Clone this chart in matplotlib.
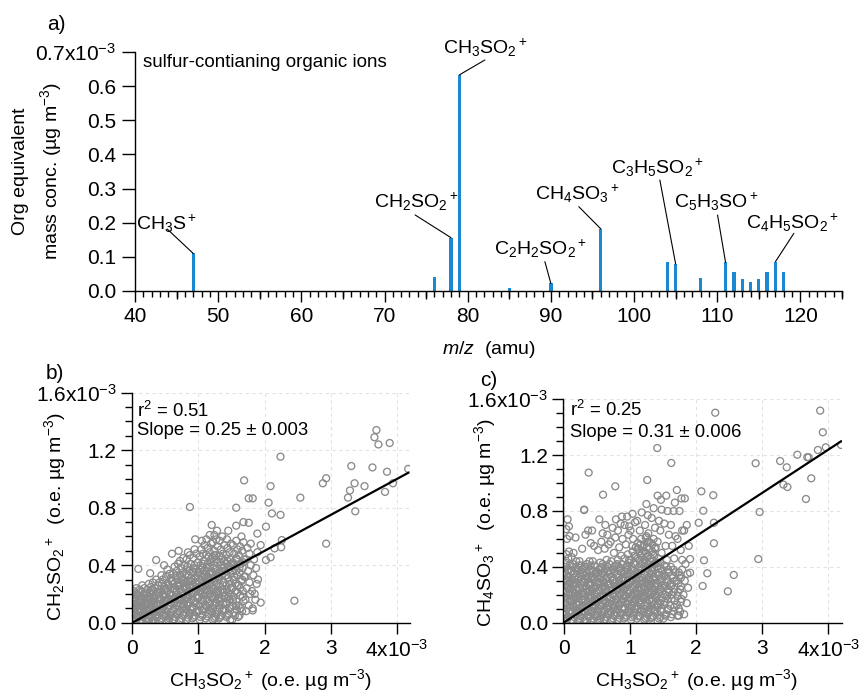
import matplotlib
matplotlib.use('Agg')
import matplotlib.pyplot as plt
from matplotlib.ticker import MultipleLocator, FixedLocator, FixedFormatter

plt.rcParams['font.family'] = ['Liberation Sans', 'DejaVu Sans']
plt.rcParams['mathtext.fontset'] = 'custom'
plt.rcParams['mathtext.rm'] = 'Liberation Sans'
plt.rcParams['mathtext.it'] = 'Liberation Sans:italic'
plt.rcParams['mathtext.bf'] = 'Liberation Sans:bold'
plt.rcParams['axes.linewidth'] = 1.0

# ---------------- data ----------------
# panel a: sulfur-containing organic ions (x 1e-3 ug m-3)
mz = [47, 76, 78, 79, 85, 90, 96, 104, 105, 108, 111, 112, 113, 114, 115, 116, 117, 118]
conc = [0.110, 0.042, 0.156, 0.633, 0.008, 0.022, 0.182, 0.084, 0.079, 0.037,
        0.084, 0.057, 0.036, 0.027, 0.035, 0.055, 0.086, 0.057]
ann_mz = [47, 78, 79, 90, 96, 105, 111, 117]
ann_labels = ['CH$_3$S$^+$', 'CH$_2$SO$_2$$^+$', 'CH$_3$SO$_2$$^+$', 'C$_2$H$_2$SO$_2$$^+$',
              'CH$_4$SO$_3$$^+$', 'C$_3$H$_5$SO$_2$$^+$', 'C$_5$H$_3$SO$^+$', 'C$_4$H$_5$SO$_2$$^+$']

# panel b: CH3SO2+ (x) vs CH2SO2+ (y), units 1e-3 o.e. ug m-3
b_cloud = [
 (0.02,0.01),(0.06,0.03),(0.03,0.06),(0.08,0.08),(0.01,0.11),(0.05,0.13),(0.09,0.15),(0.03,0.17),(0.07,0.20),(0.02,0.22),(0.06,0.24),(0.09,0.05),(0.04,0.09),(0.08,0.12),(0.01,0.19),
 (0.12,0.02),(0.16,0.04),(0.11,0.07),(0.18,0.09),(0.14,0.12),(0.19,0.14),(0.12,0.16),(0.17,0.19),(0.13,0.22),(0.18,0.24),(0.15,0.26),(0.11,0.10),(0.16,0.00),(0.19,0.06),(0.14,0.18),
 (0.21,0.01),(0.25,0.03),(0.28,0.05),(0.22,0.08),(0.27,0.10),(0.24,0.13),(0.29,0.15),(0.21,0.17),(0.26,0.20),(0.23,0.23),(0.28,0.25),(0.25,0.27),(0.29,0.00),(0.22,0.12),(0.27,0.18),
 (0.31,0.02),(0.35,0.00),(0.38,0.04),(0.33,0.07),(0.37,0.09),(0.31,0.11),(0.36,0.13),(0.39,0.16),(0.32,0.18),(0.37,0.21),(0.34,0.24),(0.39,0.26),(0.31,0.28),(0.36,0.30),(0.33,0.15),
 (0.41,0.01),(0.45,0.03),(0.48,0.06),(0.42,0.08),(0.47,0.11),(0.43,0.13),(0.49,0.15),(0.41,0.18),(0.46,0.20),(0.43,0.23),(0.48,0.25),(0.41,0.28),(0.46,0.30),(0.44,0.33),(0.49,0.19),
 (0.52,0.00),(0.56,0.03),(0.51,0.05),(0.58,0.07),(0.53,0.10),(0.57,0.12),(0.51,0.15),(0.55,0.17),(0.59,0.19),(0.52,0.22),(0.57,0.24),(0.54,0.27),(0.59,0.29),(0.51,0.32),(0.56,0.34),(0.53,0.37),(0.58,0.14),
 (0.61,0.02),(0.65,0.04),(0.68,0.07),(0.62,0.09),(0.67,0.12),(0.63,0.14),(0.69,0.16),(0.61,0.19),(0.66,0.21),(0.63,0.24),(0.68,0.26),(0.61,0.29),(0.66,0.31),(0.62,0.34),(0.67,0.36),(0.64,0.39),(0.69,0.41),(0.65,0.18),
 (0.71,0.01),(0.75,0.03),(0.78,0.06),(0.72,0.08),(0.77,0.11),(0.73,0.13),(0.79,0.16),(0.71,0.18),(0.76,0.20),(0.73,0.23),(0.78,0.25),(0.71,0.28),(0.76,0.30),(0.72,0.33),(0.77,0.35),(0.74,0.38),(0.79,0.40),(0.72,0.43),(0.77,0.45),(0.75,0.17),
 (0.82,0.02),(0.86,0.05),(0.81,0.07),(0.88,0.09),(0.83,0.12),(0.87,0.14),(0.81,0.17),(0.85,0.19),(0.89,0.21),(0.82,0.24),(0.87,0.26),(0.84,0.29),(0.89,0.31),(0.81,0.34),(0.86,0.36),(0.83,0.39),(0.88,0.41),(0.82,0.44),(0.87,0.47),(0.84,0.49),(0.86,0.22),
 (0.91,0.03),(0.95,0.05),(0.98,0.08),(0.92,0.10),(0.97,0.13),(0.93,0.15),(0.99,0.17),(0.91,0.20),(0.96,0.22),(0.93,0.25),(0.98,0.27),(0.91,0.30),(0.96,0.32),(0.92,0.35),(0.97,0.37),(0.94,0.40),(0.99,0.42),(0.92,0.45),(0.97,0.48),(0.94,0.51),(0.95,0.28),
 (1.02,0.02),(1.06,0.05),(1.01,0.08),(1.08,0.10),(1.03,0.13),(1.07,0.15),(1.01,0.18),(1.05,0.20),(1.09,0.23),(1.02,0.25),(1.07,0.28),(1.04,0.30),(1.09,0.33),(1.01,0.35),(1.06,0.38),(1.03,0.40),(1.08,0.43),(1.02,0.46),(1.07,0.48),(1.04,0.51),(1.09,0.54),(1.05,0.57),(1.06,0.24),
 (1.11,0.03),(1.15,0.06),(1.18,0.08),(1.12,0.11),(1.17,0.13),(1.13,0.16),(1.19,0.18),(1.11,0.21),(1.16,0.23),(1.13,0.26),(1.18,0.28),(1.11,0.31),(1.16,0.34),(1.12,0.36),(1.17,0.39),(1.14,0.41),(1.19,0.44),(1.12,0.47),(1.17,0.49),(1.14,0.52),(1.19,0.55),(1.12,0.58),(1.17,0.61),(1.15,0.30),
 (1.22,0.02),(1.26,0.04),(1.21,0.07),(1.28,0.09),(1.23,0.12),(1.27,0.14),(1.21,0.17),(1.25,0.19),(1.29,0.22),(1.22,0.24),(1.27,0.27),(1.24,0.29),(1.29,0.32),(1.21,0.35),(1.26,0.37),(1.23,0.40),(1.28,0.42),(1.22,0.45),(1.27,0.47),(1.24,0.50),(1.29,0.53),(1.22,0.56),(1.27,0.58),(1.24,0.61),(1.28,0.64),
 (1.31,0.03),(1.35,0.05),(1.38,0.08),(1.32,0.10),(1.37,0.13),(1.33,0.15),(1.39,0.18),(1.31,0.20),(1.36,0.23),(1.33,0.25),(1.38,0.28),(1.31,0.30),(1.36,0.33),(1.32,0.35),(1.37,0.38),(1.34,0.40),(1.39,0.43),(1.32,0.46),(1.37,0.48),(1.34,0.51),(1.39,0.54),(1.32,0.57),(1.36,0.60),
 (1.42,0.04),(1.46,0.06),(1.41,0.09),(1.48,0.11),(1.43,0.14),(1.47,0.16),(1.41,0.19),(1.45,0.21),(1.49,0.24),(1.42,0.26),(1.47,0.29),(1.44,0.31),(1.49,0.34),(1.41,0.36),(1.46,0.39),(1.43,0.41),(1.48,0.44),(1.42,0.47),(1.47,0.49),(1.44,0.52),(1.49,0.55),(1.43,0.58),
 (1.51,0.02),(1.55,0.05),(1.58,0.09),(1.52,0.12),(1.57,0.15),(1.53,0.18),(1.59,0.21),(1.51,0.24),(1.56,0.27),(1.53,0.30),(1.58,0.33),(1.51,0.36),(1.56,0.39),(1.52,0.42),(1.57,0.45),(1.54,0.48),(1.59,0.51),(1.52,0.54),(1.57,0.57),
 (1.62,0.05),(1.66,0.08),(1.61,0.12),(1.68,0.15),(1.63,0.19),(1.67,0.22),(1.61,0.26),(1.65,0.29),(1.69,0.32),(1.62,0.35),(1.67,0.38),(1.64,0.41),(1.69,0.44),(1.61,0.47),(1.66,0.50),(1.63,0.53),(1.68,0.56),
 (1.72,0.08),(1.76,0.12),(1.71,0.16),(1.78,0.20),(1.73,0.24),(1.77,0.28),(1.71,0.32),(1.75,0.36),(1.79,0.40),(1.72,0.44),(1.77,0.48),(1.74,0.52),(1.79,0.55),
 (1.82,0.10),(1.86,0.16),(1.81,0.22),(1.88,0.27),(1.83,0.33),(1.87,0.38),(1.84,0.44),(1.89,0.49),(1.85,0.20),
]
b_core = [
 (0.04,0.02),(0.07,0.045),(0.02,0.075),(0.05,0.10),(0.09,0.125),(0.03,0.145),(0.06,0.165),(0.08,0.19),(0.04,0.21),
 (0.14,0.015),(0.17,0.05),(0.13,0.08),(0.16,0.11),(0.19,0.13),(0.12,0.145),(0.15,0.165),(0.18,0.205),(0.11,0.23),
 (0.23,0.02),(0.26,0.045),(0.21,0.065),(0.25,0.09),(0.28,0.12),(0.23,0.155),(0.27,0.165),(0.22,0.21),(0.29,0.22),
 (0.33,0.02),(0.36,0.055),(0.31,0.08),(0.35,0.105),(0.38,0.125),(0.33,0.165),(0.37,0.19),(0.31,0.225),(0.39,0.21),
 (0.43,0.02),(0.46,0.05),(0.41,0.07),(0.45,0.095),(0.48,0.13),(0.43,0.165),(0.47,0.18),(0.42,0.21),(0.49,0.235),(0.45,0.27),
 (0.54,0.02),(0.57,0.055),(0.52,0.08),(0.56,0.11),(0.59,0.135),(0.53,0.16),(0.57,0.20),(0.51,0.24),(0.55,0.26),(0.58,0.31),
 (0.63,0.025),(0.66,0.06),(0.61,0.08),(0.65,0.105),(0.68,0.135),(0.62,0.165),(0.67,0.195),(0.64,0.225),(0.69,0.25),(0.62,0.27),(0.67,0.33),
 (0.73,0.02),(0.76,0.05),(0.71,0.075),(0.75,0.10),(0.78,0.13),(0.72,0.155),(0.77,0.19),(0.74,0.215),(0.79,0.24),(0.72,0.265),(0.77,0.29),(0.74,0.32),
 (0.84,0.035),(0.87,0.07),(0.82,0.095),(0.85,0.13),(0.89,0.16),(0.83,0.18),(0.86,0.245),(0.81,0.275),(0.88,0.29),(0.85,0.33),(0.82,0.37),
 (0.93,0.04),(0.96,0.075),(0.91,0.11),(0.95,0.14),(0.98,0.19),(0.93,0.21),(0.97,0.24),(0.91,0.265),(0.95,0.31),(0.99,0.345),(0.93,0.38),
 (1.03,0.04),(1.06,0.09),(1.01,0.12),(1.05,0.16),(1.08,0.19),(1.03,0.215),(1.07,0.26),(1.01,0.29),(1.05,0.32),(1.09,0.36),(1.03,0.37),(1.07,0.41),
 (1.13,0.045),(1.16,0.09),(1.11,0.12),(1.15,0.145),(1.18,0.20),(1.13,0.22),(1.17,0.26),(1.11,0.285),(1.15,0.32),(1.19,0.35),(1.13,0.385),(1.18,0.42),(1.15,0.46),
 (1.24,0.03),(1.27,0.06),(1.22,0.10),(1.26,0.13),(1.29,0.16),(1.23,0.18),(1.26,0.21),(1.21,0.26),(1.25,0.31),(1.28,0.34),(1.23,0.38),(1.27,0.44),(1.24,0.47),
 (1.33,0.04),(1.36,0.09),(1.31,0.12),(1.35,0.17),(1.38,0.21),(1.33,0.22),(1.37,0.26),(1.31,0.32),(1.35,0.36),(1.39,0.39),(1.33,0.42),(1.36,0.45),
 (1.44,0.05),(1.47,0.10),(1.42,0.13),(1.46,0.18),(1.49,0.20),(1.43,0.23),(1.47,0.27),(1.42,0.33),(1.46,0.37),(1.49,0.41),(1.44,0.43),
 (1.54,0.07),(1.57,0.12),(1.52,0.16),(1.56,0.22),(1.59,0.26),(1.54,0.32),(1.57,0.36),(1.53,0.40),(1.58,0.44),
 (1.64,0.10),(1.67,0.18),(1.63,0.24),(1.66,0.30),(1.62,0.38),(1.68,0.42),
]
b_sparse = [
 (0.36,0.436),(0.09,0.374),(0.27,0.344),(0.60,0.48),(0.48,0.40),(0.70,0.50),(0.95,0.58),(1.20,0.68),(1.45,0.64),(1.65,0.60),
 (1.48,0.02),(1.60,0.04),(1.90,0.30),(1.94,0.14),(1.82,0.085),(1.89,0.62),(1.94,0.54),(1.57,0.675),(1.68,0.70),(1.76,0.695),
 (0.87,0.805),(1.57,0.80),(1.69,0.99),(1.76,0.865),(1.82,0.865),(2.02,0.668),(2.06,0.835),(2.09,0.95),(2.11,0.76),(2.24,0.75),
 (2.26,0.575),(2.25,0.525),(2.15,0.517),(2.09,0.455),(2.02,0.436),(2.24,1.155),(2.45,0.153),(2.54,0.87),(2.93,1.005),(2.88,0.97),
 (2.93,0.55),(3.26,0.87),(3.29,0.92),(3.36,0.97),(3.37,0.775),(3.31,1.09),(3.51,0.95),(3.63,1.08),(3.82,0.91),(3.85,1.05),
 (3.94,0.97),(4.17,1.07),(3.69,1.34),(3.66,1.29),(3.72,1.24),(3.89,1.25),
]
b_slope = 0.25
b_r2 = 0.51
b_err = 0.003

# panel c: CH3SO2+ (x) vs CH4SO3+ (y)
c_cloud = [
 (0.02,0.01),(0.06,0.03),(0.03,0.06),(0.08,0.08),(0.01,0.11),(0.05,0.13),(0.09,0.16),(0.03,0.18),(0.07,0.21),(0.02,0.23),(0.06,0.26),(0.09,0.28),(0.03,0.31),(0.07,0.33),(0.02,0.36),(0.06,0.38),(0.09,0.41),(0.03,0.43),(0.07,0.46),(0.04,0.49),(0.08,0.51),(0.05,0.60),(0.04,0.67),(0.08,0.69),(0.06,0.74),(0.09,0.62),
 (0.12,0.02),(0.16,0.04),(0.11,0.07),(0.18,0.09),(0.14,0.12),(0.19,0.14),(0.12,0.17),(0.17,0.19),(0.13,0.22),(0.18,0.24),(0.15,0.27),(0.11,0.29),(0.16,0.32),(0.19,0.34),(0.12,0.37),(0.17,0.39),(0.14,0.42),(0.19,0.44),(0.12,0.47),(0.15,0.50),(0.18,0.61),
 (0.21,0.01),(0.25,0.03),(0.28,0.06),(0.22,0.08),(0.27,0.11),(0.24,0.13),(0.29,0.16),(0.21,0.18),(0.26,0.21),(0.23,0.23),(0.28,0.26),(0.25,0.28),(0.21,0.31),(0.26,0.33),(0.29,0.36),(0.22,0.38),(0.27,0.41),(0.24,0.44),(0.28,0.53),
 (0.31,0.02),(0.35,0.00),(0.38,0.04),(0.33,0.07),(0.37,0.09),(0.31,0.12),(0.36,0.14),(0.39,0.17),(0.32,0.19),(0.37,0.22),(0.34,0.24),(0.39,0.27),(0.31,0.29),(0.36,0.32),(0.33,0.34),(0.38,0.37),(0.31,0.39),(0.35,0.42),(0.39,0.44),(0.33,0.63),(0.37,0.66),(0.31,0.81),
 (0.41,0.01),(0.45,0.03),(0.48,0.06),(0.42,0.08),(0.47,0.11),(0.43,0.13),(0.49,0.16),(0.41,0.18),(0.46,0.21),(0.43,0.23),(0.48,0.26),(0.41,0.28),(0.46,0.31),(0.44,0.33),(0.49,0.36),(0.42,0.38),(0.47,0.41),(0.44,0.44),(0.41,0.57),(0.46,0.55),(0.43,0.66),
 (0.52,0.00),(0.56,0.03),(0.51,0.05),(0.58,0.08),(0.53,0.10),(0.57,0.13),(0.51,0.15),(0.55,0.18),(0.59,0.20),(0.52,0.23),(0.57,0.25),(0.54,0.28),(0.59,0.30),(0.51,0.33),(0.56,0.35),(0.53,0.38),(0.58,0.40),(0.55,0.43),(0.52,0.52),(0.57,0.58),(0.59,0.64),(0.54,0.74),
 (0.61,0.02),(0.65,0.04),(0.68,0.07),(0.62,0.09),(0.67,0.12),(0.63,0.14),(0.69,0.17),(0.61,0.19),(0.66,0.22),(0.63,0.24),(0.68,0.27),(0.61,0.29),(0.66,0.32),(0.62,0.34),(0.67,0.37),(0.64,0.39),(0.69,0.42),(0.65,0.45),(0.62,0.53),(0.68,0.56),(0.66,0.63),(0.63,0.70),
 (0.71,0.01),(0.75,0.03),(0.78,0.06),(0.72,0.08),(0.77,0.11),(0.73,0.13),(0.79,0.16),(0.71,0.18),(0.76,0.21),(0.73,0.23),(0.78,0.26),(0.71,0.28),(0.76,0.31),(0.72,0.33),(0.77,0.36),(0.74,0.38),(0.79,0.41),(0.72,0.44),(0.76,0.50),(0.71,0.58),(0.78,0.61),(0.74,0.68),(0.79,0.74),
 (0.82,0.02),(0.86,0.05),(0.81,0.07),(0.88,0.10),(0.83,0.12),(0.87,0.15),(0.81,0.17),(0.85,0.20),(0.89,0.22),(0.82,0.25),(0.87,0.27),(0.84,0.30),(0.89,0.32),(0.81,0.35),(0.86,0.37),(0.83,0.40),(0.88,0.42),(0.82,0.45),(0.87,0.48),(0.84,0.54),(0.89,0.60),(0.82,0.66),(0.86,0.71),(0.88,0.76),
 (0.91,0.03),(0.95,0.05),(0.98,0.08),(0.92,0.10),(0.97,0.13),(0.93,0.15),(0.99,0.18),(0.91,0.20),(0.96,0.23),(0.93,0.25),(0.98,0.28),(0.91,0.30),(0.96,0.33),(0.92,0.35),(0.97,0.38),(0.94,0.40),(0.99,0.43),(0.92,0.46),(0.97,0.49),(0.94,0.56),(0.98,0.63),(0.92,0.70),(0.96,0.76),(0.99,0.69),
 (1.02,0.02),(1.06,0.05),(1.01,0.07),(1.08,0.10),(1.03,0.12),(1.07,0.15),(1.01,0.17),(1.05,0.20),(1.09,0.22),(1.02,0.25),(1.07,0.27),(1.04,0.30),(1.09,0.32),(1.01,0.35),(1.06,0.37),(1.03,0.40),(1.08,0.42),(1.02,0.45),(1.07,0.48),(1.04,0.51),(1.09,0.54),(1.05,0.60),(1.01,0.66),(1.08,0.72),(1.04,0.78),
 (1.11,0.03),(1.15,0.05),(1.18,0.08),(1.12,0.10),(1.17,0.13),(1.13,0.15),(1.19,0.18),(1.11,0.20),(1.16,0.23),(1.13,0.25),(1.18,0.28),(1.11,0.30),(1.16,0.33),(1.12,0.35),(1.17,0.38),(1.14,0.40),(1.19,0.43),(1.12,0.46),(1.17,0.48),(1.14,0.51),(1.19,0.54),(1.12,0.57),(1.17,0.60),(1.15,0.66),(1.11,0.73),(1.18,0.79),
 (1.22,0.02),(1.26,0.04),(1.21,0.07),(1.28,0.09),(1.23,0.12),(1.27,0.14),(1.21,0.17),(1.25,0.19),(1.29,0.22),(1.22,0.24),(1.27,0.27),(1.24,0.29),(1.29,0.32),(1.21,0.35),(1.26,0.37),(1.23,0.40),(1.28,0.42),(1.22,0.45),(1.27,0.47),(1.24,0.50),(1.29,0.53),(1.22,0.56),(1.27,0.58),(1.24,0.61),(1.28,0.64),(1.23,0.70),(1.27,0.77),(1.25,0.85),
 (1.31,0.03),(1.35,0.05),(1.38,0.08),(1.32,0.10),(1.37,0.13),(1.33,0.15),(1.39,0.18),(1.31,0.20),(1.36,0.23),(1.33,0.25),(1.38,0.28),(1.31,0.30),(1.36,0.33),(1.32,0.35),(1.37,0.38),(1.34,0.40),(1.39,0.43),(1.32,0.46),(1.37,0.48),(1.34,0.51),(1.39,0.54),(1.32,0.57),(1.36,0.60),(1.38,0.68),(1.33,0.75),(1.36,0.82),
 (1.42,0.01),(1.46,0.04),(1.41,0.07),(1.48,0.10),(1.43,0.13),(1.47,0.16),(1.41,0.19),(1.45,0.22),(1.49,0.25),(1.42,0.28),(1.47,0.31),(1.44,0.34),(1.49,0.37),(1.41,0.40),(1.46,0.43),(1.43,0.46),(1.48,0.50),(1.42,0.58),(1.46,0.66),(1.44,0.73),(1.48,0.81),(1.42,0.91),(1.47,0.88),
 (1.51,0.03),(1.55,0.06),(1.58,0.10),(1.52,0.13),(1.57,0.17),(1.53,0.20),(1.59,0.24),(1.51,0.27),(1.56,0.31),(1.53,0.34),(1.58,0.38),(1.52,0.41),(1.56,0.45),(1.54,0.55),(1.59,0.63),(1.52,0.71),(1.57,0.80),(1.55,0.91),
 (1.62,0.04),(1.66,0.08),(1.61,0.12),(1.68,0.16),(1.63,0.20),(1.67,0.24),(1.61,0.28),(1.65,0.32),(1.69,0.36),(1.62,0.40),(1.67,0.46),(1.64,0.55),(1.69,0.62),(1.62,0.70),(1.66,0.80),(1.68,0.86),(1.71,0.95),
 (1.72,0.05),(1.76,0.08),(1.71,0.13),(1.78,0.17),(1.73,0.22),(1.77,0.26),(1.71,0.30),(1.75,0.34),(1.79,0.38),(1.74,0.05),(1.77,0.52),(1.72,0.60),(1.79,0.66),(1.75,0.80),(1.78,0.89),
 (1.82,0.06),(1.86,0.14),(1.81,0.20),(1.88,0.25),(1.83,0.30),(1.87,0.35),(1.84,0.42),(1.89,0.55),(1.82,0.66),(1.86,0.70),(1.83,0.89),
]
c_core = [
 (0.04,0.02),(0.07,0.045),(0.02,0.075),(0.05,0.10),(0.09,0.125),(0.03,0.145),(0.06,0.17),(0.08,0.195),(0.04,0.22),(0.07,0.245),(0.02,0.27),(0.05,0.295),(0.08,0.32),(0.04,0.345),(0.07,0.37),(0.03,0.40),
 (0.14,0.015),(0.17,0.055),(0.13,0.08),(0.16,0.105),(0.19,0.13),(0.12,0.155),(0.15,0.18),(0.18,0.21),(0.11,0.24),(0.14,0.26),(0.17,0.285),(0.13,0.31),(0.16,0.355),(0.19,0.38),(0.14,0.40),
 (0.23,0.02),(0.26,0.045),(0.21,0.07),(0.25,0.10),(0.28,0.12),(0.23,0.15),(0.27,0.17),(0.22,0.20),(0.29,0.22),(0.24,0.25),(0.27,0.29),(0.22,0.32),(0.25,0.35),(0.28,0.38),(0.23,0.41),
 (0.33,0.02),(0.36,0.055),(0.31,0.08),(0.35,0.105),(0.38,0.13),(0.33,0.16),(0.37,0.18),(0.31,0.21),(0.39,0.23),(0.34,0.26),(0.37,0.28),(0.32,0.31),(0.38,0.33),(0.35,0.36),(0.33,0.40),
 (0.43,0.02),(0.46,0.05),(0.41,0.075),(0.45,0.10),(0.48,0.125),(0.43,0.15),(0.47,0.17),(0.42,0.20),(0.49,0.22),(0.45,0.245),(0.41,0.265),(0.47,0.29),(0.43,0.32),(0.48,0.35),(0.45,0.37),(0.41,0.41),
 (0.54,0.02),(0.57,0.055),(0.52,0.08),(0.56,0.115),(0.59,0.14),(0.53,0.165),(0.57,0.19),(0.51,0.21),(0.55,0.235),(0.59,0.26),(0.53,0.29),(0.57,0.32),(0.52,0.36),(0.56,0.39),(0.59,0.42),
 (0.63,0.025),(0.66,0.06),(0.61,0.08),(0.65,0.105),(0.68,0.14),(0.62,0.16),(0.67,0.185),(0.64,0.21),(0.69,0.23),(0.62,0.26),(0.67,0.28),(0.64,0.31),(0.69,0.35),(0.61,0.37),(0.66,0.40),
 (0.73,0.02),(0.76,0.05),(0.71,0.075),(0.75,0.10),(0.78,0.13),(0.72,0.155),(0.77,0.19),(0.74,0.20),(0.79,0.23),(0.72,0.255),(0.77,0.28),(0.74,0.30),(0.79,0.34),(0.71,0.37),(0.76,0.40),
 (0.84,0.035),(0.87,0.07),(0.82,0.095),(0.85,0.13),(0.89,0.16),(0.83,0.185),(0.86,0.21),(0.81,0.23),(0.88,0.26),(0.84,0.28),(0.87,0.31),(0.82,0.33),(0.88,0.36),(0.85,0.39),(0.81,0.42),
 (0.93,0.04),(0.96,0.075),(0.91,0.11),(0.95,0.14),(0.98,0.16),(0.93,0.19),(0.97,0.21),(0.91,0.24),(0.95,0.27),(0.99,0.30),(0.93,0.32),(0.97,0.35),(0.92,0.37),(0.96,0.41),(0.99,0.45),
 (1.03,0.04),(1.06,0.075),(1.01,0.10),(1.05,0.13),(1.08,0.165),(1.03,0.19),(1.07,0.21),(1.01,0.23),(1.05,0.26),(1.09,0.28),(1.03,0.32),(1.07,0.34),(1.02,0.38),(1.06,0.43),(1.09,0.47),(1.04,0.55),
 (1.13,0.045),(1.16,0.09),(1.11,0.12),(1.15,0.16),(1.18,0.19),(1.13,0.21),(1.17,0.25),(1.11,0.27),(1.15,0.30),(1.19,0.32),(1.13,0.36),(1.17,0.42),(1.14,0.45),(1.18,0.50),(1.12,0.53),(1.16,0.56),
 (1.24,0.03),(1.27,0.06),(1.22,0.10),(1.26,0.12),(1.29,0.16),(1.23,0.18),(1.26,0.21),(1.21,0.26),(1.25,0.28),(1.28,0.31),(1.23,0.34),(1.27,0.39),(1.24,0.43),(1.28,0.48),(1.22,0.51),(1.26,0.54),(1.29,0.58),(1.25,0.62),
 (1.33,0.04),(1.36,0.09),(1.31,0.12),(1.35,0.165),(1.38,0.20),(1.33,0.22),(1.37,0.26),(1.31,0.28),(1.35,0.31),(1.39,0.35),(1.33,0.37),(1.36,0.42),(1.31,0.44),(1.35,0.49),(1.38,0.53),(1.34,0.56),
 (1.44,0.03),(1.47,0.08),(1.42,0.11),(1.46,0.14),(1.49,0.18),(1.43,0.21),(1.47,0.24),(1.42,0.26),(1.46,0.29),(1.49,0.32),(1.44,0.36),(1.47,0.39),(1.42,0.43),
 (1.54,0.05),(1.57,0.09),(1.52,0.15),(1.56,0.19),(1.59,0.22),(1.54,0.26),(1.57,0.29),(1.52,0.33),(1.58,0.36),(1.55,0.40),
 (1.64,0.06),(1.67,0.11),(1.63,0.17),(1.66,0.22),(1.62,0.26),(1.68,0.30),(1.64,0.34),(1.66,0.38),
 (1.74,0.10),(1.77,0.15),(1.72,0.19),(1.76,0.24),(1.73,0.28),(1.77,0.32),(1.74,0.36),(1.79,0.45),
]
c_sparse = [
 (0.31,0.807),(0.595,0.917),(0.78,0.977),(0.378,1.075),(1.263,1.022),(1.414,1.251),(1.626,1.144),
 (1.91,0.456),(1.91,0.358),(2.04,0.716),(2.08,0.941),(2.11,0.802),(2.26,0.913),(2.27,0.716),(2.12,0.447),(2.27,0.569),
 (2.17,0.354),(2.10,0.263),(2.57,0.342),(2.48,0.225),(2.29,1.504),(2.90,1.142),(2.96,0.793),(2.94,0.456),
 (3.27,1.158),(3.37,1.113),(3.32,0.989),(3.38,0.972),(3.53,1.203),(3.68,1.185),(3.70,1.185),(3.74,1.034),
 (3.66,0.886),(3.84,1.237),(3.875,1.519),(3.915,1.364),(3.96,1.256),(4.19,1.273),
]
c_slope = 0.31
c_r2 = 0.25
c_err = 0.006

# ---------------- layout helpers ----------------
W, H = 860, 698
fig = plt.figure(figsize=(W / 100, H / 100), dpi=100)


def box(l, t, r, b):
    return [l / W, 1 - b / H, (r - l) / W, (b - t) / H]


PT = 0.72  # points per pixel at 100 dpi
TICK_FS = 15
BAR_COLOR = '#1a88d2'
GRAY = '#8a8a8a'

# ---------------- panel a ----------------
ax = fig.add_axes(box(135, 52, 842, 291))
ax.bar(mz, conc, width=0.4, color=BAR_COLOR, linewidth=0)
ax.set_xlim(40, 125)
ax.set_ylim(0, 0.7)
for s in ('top', 'right'):
    ax.spines[s].set_visible(False)
ax.xaxis.set_major_locator(MultipleLocator(10))
ax.xaxis.set_minor_locator(MultipleLocator(1))
ax.tick_params(axis='x', which='major', direction='out', length=7.7, width=1.0,
               labelsize=TICK_FS, pad=4)
ax.tick_params(axis='x', which='minor', direction='out', length=4.2, width=1.0)
yt = [0.0, 0.1, 0.2, 0.3, 0.4, 0.5, 0.6, 0.7]
ax.yaxis.set_major_locator(FixedLocator(yt))
ax.yaxis.set_major_formatter(FixedFormatter(
    ['%.1f' % v for v in yt[:-1]] + ['0.7x10$^{-3}$']))
ax.tick_params(axis='y', which='major', direction='out', length=9.5, width=1.0,
               labelsize=TICK_FS, pad=4)
# medium ticks at every 5 amu
sec = ax.secondary_xaxis('bottom')
sec.set_xticks([45, 55, 65, 75, 85, 95, 105, 115, 125])
sec.tick_params(direction='out', length=5.8, width=1.0, labelbottom=False)
sec.spines['bottom'].set_visible(False)

ax.set_xlabel('$m/z$  (amu)', fontsize=14)
ax.xaxis.label.set_va('center')
ax.xaxis.set_label_coords(0.5, (291 - 350) / 239)
ax.set_ylabel('Org equivalent\nmass conc. (µg m$^{-3}$)', fontsize=14, linespacing=1.5,
              ha='center', va='center')
ax.yaxis.label.set_rotation_mode('default')
ax.yaxis.set_label_coords((38 - 135) / 707, (291 - 171) / 239)

ax.text((142.7 - 135) / 707, (291 - 66.7) / 239, 'sulfur-contianing organic ions',
        transform=ax.transAxes, fontsize=13.5, va='baseline', ha='left')

# label layout: (text centre dx, text baseline dy, line start dx, line start dy) in px
ann_layout = [(-27, 23.4, -26, 24.4), (-35, 29.8, -36, 22.8), (25.5, 21.6, 25.5, 14.9),
              (-10, 28.5, -6, 21.8), (-24, 28.9, -22, 22.2), (-18, 90, -15.8, 84),
              (-9.7, 55, -8, 47.3), (17.4, 33.3, 18.4, 28.3)]
for m, lab, (tdx, tdy, ldx, ldy) in zip(ann_mz, ann_labels, ann_layout):
    val = conc[mz.index(m)]
    ax.annotate('', xy=(m, val), xytext=(ldx * PT, ldy * PT), textcoords='offset points',
                arrowprops=dict(arrowstyle='-', lw=0.8, color='black', shrinkA=0, shrinkB=0))
    ax.annotate(lab, xy=(m, val), xytext=(tdx * PT, tdy * PT), textcoords='offset points',
                ha='center', va='baseline', fontsize=14)

fig.text(56 / W, 1 - 24 / H, 'a)', fontsize=15, ha='center', va='center')


# ---------------- panels b, c ----------------
def scatter_panel(rect, pts, slope, r2, err, xmax, ylab, txt_pos):
    axs = fig.add_axes(rect)
    xs = [p[0] for p in pts]
    ys = [p[1] for p in pts]
    axs.scatter(xs, ys, s=25, facecolors='none', edgecolors=GRAY, linewidths=0.95, zorder=2)
    x0, x1 = min(xs), max(xs)
    axs.plot([x0, x1], [slope * x0, slope * x1], color='black', lw=1.6, zorder=3)
    axs.set_xlim(-0.005, xmax)
    axs.set_ylim(0, 1.6)
    for s in ('top', 'right'):
        axs.spines[s].set_visible(False)
    axs.set_axisbelow(True)
    axs.grid(True, which='major', color='#e2e2e2', ls=(0, (3, 3)), lw=0.8)
    xt = [0, 1, 2, 3, 4]
    axs.xaxis.set_major_locator(FixedLocator(xt))
    axs.xaxis.set_major_formatter(FixedFormatter(['0', '1', '2', '3', '4x10$^{-3}$']))
    yt2 = [0.0, 0.4, 0.8, 1.2, 1.6]
    axs.yaxis.set_major_locator(FixedLocator(yt2))
    axs.yaxis.set_major_formatter(FixedFormatter(['0.0', '0.4', '0.8', '1.2', '1.6x10$^{-3}$']))
    axs.yaxis.set_minor_locator(MultipleLocator(0.1))
    axs.tick_params(axis='x', which='major', direction='out', length=7.7, width=1.0,
                    labelsize=TICK_FS, pad=4)
    axs.tick_params(axis='y', which='major', direction='out', length=8, width=1.0,
                    labelsize=TICK_FS, pad=3)
    axs.tick_params(axis='y', which='minor', direction='out', length=4.8, width=1.0)
    axs.text(txt_pos[0], txt_pos[1], 'r$^2$ = %.2f' % r2, transform=axs.transAxes,
             fontsize=13.3, va='baseline', ha='left')
    axs.text(txt_pos[0], txt_pos[2], 'Slope = %.2f ± %s' % (slope, err), transform=axs.transAxes,
             fontsize=13.3, va='baseline', ha='left')
    axs.set_ylabel(ylab, fontsize=14, ha='center', va='center')
    axs.yaxis.label.set_rotation_mode('default')
    axs.set_xlabel('CH$_3$SO$_2$$^+$ (o.e. µg m$^{-3}$)', fontsize=14, ha='center', va='center')
    return axs


axb = scatter_panel(box(132, 392.7, 409.5, 622.7), b_cloud + b_core + b_sparse,
                    b_slope, b_r2, b_err, 4.19,
                    'CH$_2$SO$_2$$^+$  (o.e. µg m$^{-3}$)', (0.018, 0.896, 0.816))
axb.yaxis.set_label_coords((55 - 132) / 277.5, (622.7 - 517) / 230)
axb.xaxis.set_label_coords((271 - 132) / 277.5, (622.7 - 680) / 230)

axc = scatter_panel(box(563.3, 399.3, 841.7, 622.7), c_cloud + c_core + c_sparse,
                    c_slope, c_r2, c_err, 4.2,
                    'CH$_4$SO$_3$$^+$  (o.e. µg m$^{-3}$)', (0.024, 0.925, 0.833))
axc.yaxis.set_label_coords((485 - 563.3) / 278.4, (622.7 - 523) / 223.4)
axc.xaxis.set_label_coords((697 - 563.3) / 278.4, (622.7 - 680) / 223.4)

fig.text(55 / W, 1 - 373 / H, 'b)', fontsize=15, ha='center', va='center')
fig.text(489 / W, 1 - 380 / H, 'c)', fontsize=15, ha='center', va='center')

fig.savefig('out.png', dpi=100)
